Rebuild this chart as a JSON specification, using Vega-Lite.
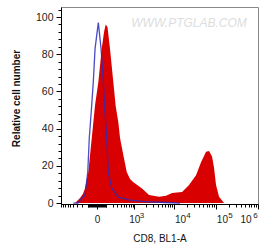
{
  "$schema": "https://vega.github.io/schema/vega-lite/v6.json",
  "width": 197,
  "height": 197,
  "autosize": {"type": "none"},
  "padding": {"left": 61, "top": 7, "right": 1, "bottom": 47},
  "background": "white",
  "config": {
    "view": {"stroke": "#888888", "strokeWidth": 1},
    "font": "Liberation Sans",
    "axis": {"labelFont": "Liberation Sans", "titleFont": "Liberation Sans", "domainColor": "black", "tickColor": "black", "labelColor": "#222222", "titleColor": "#111111", "grid": false},
    "axisY": {
      "titleFontSize": 10, "titleFontWeight": "bold", "titleX": -42, "titleY": 91, "titleBaseline": "alphabetic", "titleAngle": -90,
      "labelFontSize": 10.5, "labelPadding": 3, "labelOverlap": false, "labelFlush": false
    }
  },
  "datasets": {
    "stain": [
      {"v": -507, "c": 0}, {"v": -350, "c": 0}, {"v": -230, "c": 2.7}, {"v": -173, "c": 5}, {"v": -139, "c": 8},
      {"v": -91, "c": 16.7}, {"v": -50, "c": 35}, {"v": -17, "c": 52.7}, {"v": 11, "c": 65}, {"v": 44, "c": 83},
      {"v": 70, "c": 92}, {"v": 91, "c": 96}, {"v": 116, "c": 94.6}, {"v": 155, "c": 83}, {"v": 216, "c": 65},
      {"v": 267, "c": 52}, {"v": 331, "c": 43.5}, {"v": 378, "c": 35}, {"v": 482, "c": 25.8}, {"v": 612, "c": 16.7},
      {"v": 762, "c": 13}, {"v": 925, "c": 11.3}, {"v": 1580, "c": 8}, {"v": 2430, "c": 4.3}, {"v": 4308, "c": 3.4},
      {"v": 6390, "c": 4}, {"v": 8925, "c": 5.4}, {"v": 15540, "c": 6}, {"v": 22860, "c": 9.7}, {"v": 33600, "c": 15},
      {"v": 44200, "c": 22}, {"v": 58180, "c": 27.6}, {"v": 68600, "c": 28}, {"v": 80800, "c": 25}, {"v": 90100, "c": 19},
      {"v": 100600, "c": 9.7}, {"v": 118600, "c": 3.4}, {"v": 156000, "c": 0}, {"v": 1000000, "c": 0}
    ],
    "iso": [
      {"v": -400, "c": 0}, {"v": -274, "c": 0}, {"v": -196, "c": 2.7}, {"v": -139, "c": 4.3}, {"v": -99, "c": 16.7},
      {"v": -79, "c": 35}, {"v": -53, "c": 51}, {"v": -34, "c": 65}, {"v": -17, "c": 83}, {"v": 11, "c": 97},
      {"v": 37, "c": 83}, {"v": 62, "c": 65}, {"v": 76, "c": 52.7}, {"v": 105, "c": 35}, {"v": 128, "c": 16.7},
      {"v": 185, "c": 8}, {"v": 331, "c": 3.2}, {"v": 762, "c": 1.6}, {"v": 1923, "c": 0.8}, {"v": 6045, "c": 0.3},
      {"v": 13900, "c": 0}
    ],
    "mark": [{"label": "WWW.PTGLAB.COM"}]
  },
  "layer": [
    {
      "data": {"name": "stain"},
      "mark": {"type": "area", "color": "#d80000", "interpolate": "linear"},
      "encoding": {
        "x": {
          "field": "v", "type": "quantitative",
          "scale": {"type": "symlog", "constant": 150, "domain": [-926, 1000000], "nice": false, "zero": false},
          "axis": {
            "orient": "bottom",
            "title": "CD8, BL1-A",
            "titleFontSize": 10, "titleFontWeight": "normal", "titleY": 37, "titleBaseline": "alphabetic",
            "values": [-900, -800, -700, -600, -500, -400, -300, -200, -100, -90, -80, -70, -60, -50, -40, -30, -20, -10, 0, 10, 20, 30, 40, 50, 60, 70, 80, 90, 100, 200, 300, 400, 500, 600, 700, 800, 900, 1000, 2000, 3000, 4000, 5000, 6000, 7000, 8000, 9000, 10000, 20000, 30000, 40000, 50000, 60000, 70000, 80000, 90000, 100000, 200000, 300000, 400000, 500000, 600000, 700000, 800000, 900000, 1000000],
            "tickSize": {"condition": {"test": "datum.value == 0 || datum.value == 1000 || datum.value == 10000 || datum.value == 100000 || datum.value == 1000000", "value": 5}, "value": 3},
            "tickWidth": 1,
            "labelExpr": "datum.value == 0 ? '0' : (datum.value == 1000 || datum.value == 10000 || datum.value == 100000 || datum.value == 1000000) ? '10' : ''",
            "labelFontSize": 10, "labelPadding": 5, "labelOverlap": false, "labelFlush": false, "labelBound": false,
            "labelOffset": {"condition": [{"test": "datum.value == 10000", "value": 6}, {"test": "datum.value == 100000", "value": 6}, {"test": "datum.value == 1000000", "value": -12.5}], "value": 0}
          }
        },
        "y": {
          "field": "c", "type": "quantitative",
          "scale": {"domain": [-0.5, 105.4], "nice": false, "zero": false},
          "axis": {
            "title": "Relative cell number",
            "values": [0, 4, 8, 12, 16, 20, 24, 28, 32, 36, 40, 44, 48, 52, 56, 60, 64, 68, 72, 76, 80, 84, 88, 92, 96, 100, 104],
            "tickSize": {"condition": {"test": "datum.value % 20 == 0", "value": 5}, "value": 3},
            "labelExpr": "datum.value % 20 == 0 ? datum.label : ''"
          }
        }
      }
    },
    {
      "data": {"name": "iso"},
      "mark": {"type": "line", "color": "#2c2cbc", "strokeWidth": 1.3, "opacity": 0.85, "interpolate": "linear"},
      "encoding": {
        "x": {
          "field": "v", "type": "quantitative",
          "scale": {"type": "symlog", "constant": 150, "domain": [-926, 1000000], "nice": false, "zero": false},
          "axis": {
            "orient": "bottom", "title": null, "domain": false, "ticks": false,
            "values": [1000, 10000, 100000, 1000000],
            "labelExpr": "datum.value == 1000 ? '3' : datum.value == 10000 ? '4' : datum.value == 100000 ? '5' : '6'",
            "labelFontSize": 8, "labelPadding": 7, "labelOverlap": false, "labelFlush": false, "labelBound": false,
            "labelOffset": {"condition": [{"test": "datum.value == 1000", "value": 7.3}, {"test": "datum.value == 10000", "value": 14}, {"test": "datum.value == 100000", "value": 14}], "value": -3}
          }
        },
        "y": {
          "field": "c", "type": "quantitative",
          "scale": {"domain": [-0.5, 105.4], "nice": false, "zero": false},
          "axis": {
            "title": "Relative cell number",
            "values": [0, 4, 8, 12, 16, 20, 24, 28, 32, 36, 40, 44, 48, 52, 56, 60, 64, 68, 72, 76, 80, 84, 88, 92, 96, 100, 104],
            "tickSize": {"condition": {"test": "datum.value % 20 == 0", "value": 5}, "value": 3},
            "labelExpr": "datum.value % 20 == 0 ? datum.label : ''"
          }
        }
      }
    },
    {
      "data": {"name": "mark"},
      "mark": {"type": "text", "fontSize": 12, "fontStyle": "italic", "color": "#dddddd", "baseline": "middle", "align": "center"},
      "encoding": {
        "text": {"field": "label", "type": "nominal"},
        "x": {"datum": 22860, "type": "quantitative", "scale": {"type": "symlog", "constant": 150, "domain": [-926, 1000000], "nice": false, "zero": false}, "axis": null},
        "y": {
          "datum": 97, "type": "quantitative",
          "scale": {"domain": [-0.5, 105.4], "nice": false, "zero": false},
          "axis": {
            "title": "Relative cell number",
            "values": [0, 4, 8, 12, 16, 20, 24, 28, 32, 36, 40, 44, 48, 52, 56, 60, 64, 68, 72, 76, 80, 84, 88, 92, 96, 100, 104],
            "tickSize": {"condition": {"test": "datum.value % 20 == 0", "value": 5}, "value": 3},
            "labelExpr": "datum.value % 20 == 0 ? datum.label : ''"
          }
        }
      }
    }
  ],
  "resolve": {"axis": {"x": "independent"}}
}
